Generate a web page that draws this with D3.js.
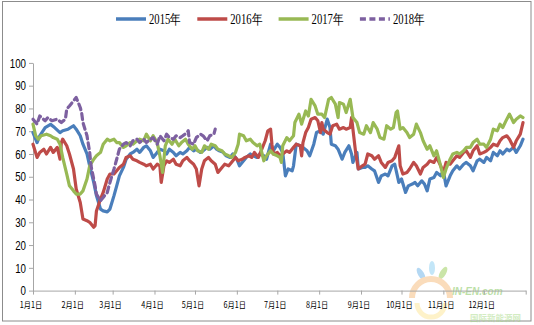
<!DOCTYPE html>
<html>
<head>
<meta charset="utf-8">
<script src="https://cdn.jsdelivr.net/npm/d3@7"></script>
<style>
  body { margin: 0; background: #fff; }
  .axis path, .axis line { stroke: #a6a6a6; }
  .line { fill: none; stroke-width: 3.2; stroke-linejoin: round; stroke-linecap: round; }
</style>
</head>
<body>
<div id="graphic"></div>
<script>
const WIDTH = 534;
const HEIGHT = 325;
const X_LEFT = 33;
const X_RIGHT = 525.7;
const Y_TOP = 62.9;
const Y_BOTTOM = 290.6;

const YEARS = ["2015年", "2016年", "2017年", "2018年"];
const COLORS = ["#4a7ebb", "#be4b48", "#98b954", "#7d60a0"];
const MONTH_LABELS = ["1月1日", "2月1日", "3月1日", "4月1日", "5月1日", "6月1日", "7月1日", "8月1日", "9月1日", "10月1日", "11月1日", "12月1日"];
const Y_TICKS = [0, 10, 20, 30, 40, 50, 60, 70, 80, 90, 100];

// [day of year, value]
const S2015 = [[0,69.4],[3,65],[5,68],[9,71.6],[13,73],[16,71.6],[20,69.4],[22,70.2],[26,70.9],[30,72.4],[32,70.9],[35,68],[37,64.3],[40,60],[42,54.8],[45,47.5],[47,41.7],[50,35.8],[52,35],[55,34.6],[57,35.8],[60,41.7],[62,46],[64,50.4],[67,54.1],[69,57.7],[72,60],[74,60.7],[77,62.1],[79,60.7],[82,62.9],[84,63.6],[87,61.4],[89,58.5],[92,60.7],[94,62.1],[97,61.4],[99,60],[101,62.1],[104,60.7],[106,59.2],[109,60.7],[111,60],[114,61.4],[116,62.9],[119,61.4],[121,62.1],[124,60.7],[126,61.4],[129,62.9],[131,62.1],[134,63.6],[136,62.1],[138,61.4],[141,60.7],[143,59.2],[146,58.5],[148,60],[151,57.7],[153,54.8],[156,57],[158,58.5],[161,60],[163,59.2],[166,58.5],[168,60],[171,59.2],[173,57.7],[176,64.3],[178,61.4],[181,64.3],[183,62.9],[185,60.7],[187,50.4],[189,53.4],[192,52.6],[193,54.8],[195,64.3],[198,63.6],[200,62.9],[203,61.4],[205,59.2],[208,64.3],[210,69.4],[213,70.2],[215,68.7],[218,75.3],[220,71.6],[221,64.3],[224,63.6],[226,62.1],[229,57.7],[231,60.7],[234,63.6],[236,60],[237,56.3],[240,60.7],[241,53.4],[244,54.1],[246,54.1],[248,54.8],[251,53.4],[253,52.6],[256,47.5],[258,50.4],[261,51.2],[263,50.4],[266,54.8],[268,55.5],[271,47.5],[273,49],[276,43.1],[278,46],[281,46.8],[283,47.5],[285,46],[288,48.2],[290,46.8],[292,43.8],[294,49],[297,49.7],[299,51.9],[302,50.4],[304,52.6],[306,46],[309,50.4],[311,52.6],[314,54.8],[316,53.4],[319,55.5],[321,56.3],[324,54.8],[326,52.6],[329,57],[331,57.7],[334,56.3],[336,58.5],[339,57],[341,60.7],[344,59.2],[346,61.4],[348,60],[351,62.1],[353,61.4],[356,62.9],[358,60.7],[361,63.6],[363,66.5]];

const S2016 = [[0,64.3],[3,58.5],[5,60.7],[8,62.1],[10,60],[13,62.9],[15,60.7],[18,62.9],[20,57.7],[21,65],[22,66.5],[25,63.6],[27,60],[30,53.4],[32,44.6],[35,38.7],[37,31.4],[40,30.7],[42,30],[45,27.8],[46,28.5],[47,35],[50,40.2],[52,43.1],[55,49],[57,51.2],[60,51.2],[62,52.6],[64,54.1],[67,55.5],[69,58.5],[72,59.2],[74,57.7],[77,57],[79,56.3],[82,55.5],[84,54.8],[87,55.5],[89,53.4],[92,55.5],[94,54.8],[95,47.5],[97,54.8],[99,57],[101,56.3],[104,57.7],[106,55.5],[109,54.8],[111,57],[114,58.5],[116,57],[119,55.5],[121,53.4],[123,46],[125,53.4],[127,57],[130,58.5],[132,57],[135,55.5],[137,51.9],[140,54.1],[142,55.5],[145,54.8],[147,56.3],[150,58.5],[152,57],[155,57.7],[157,58.5],[160,59.2],[162,58.5],[164,60.7],[167,58.5],[169,61.4],[172,65.8],[174,70.2],[176,70.9],[177,64.3],[178,60],[181,60.7],[183,59.2],[185,60],[188,61.4],[190,60.7],[193,62.9],[195,64.3],[198,63.6],[199,59.2],[200,65],[202,69.4],[204,71.6],[206,75.3],[209,76],[211,74.6],[213,69.4],[214,73.8],[215,70.9],[218,69.4],[220,68.7],[222,72.4],[225,73.1],[227,70.9],[230,71.6],[232,70.9],[235,71.6],[236,76],[237,70.9],[239,60.7],[241,53.4],[244,54.8],[246,55.5],[248,60],[251,59.2],[253,57.7],[256,59.2],[258,56.3],[261,54.1],[263,56.3],[266,57],[268,58.5],[271,63.6],[272,54.8],[274,51.2],[277,51.9],[279,53.4],[282,56.3],[284,54.8],[287,51.2],[289,54.1],[292,55.5],[294,57],[297,56.3],[299,58.5],[302,54.8],[304,51.9],[306,56.3],[309,55.5],[311,57],[314,59.2],[316,58.5],[319,60.7],[321,61.4],[324,58.5],[326,61.4],[329,63.6],[331,60],[334,60.7],[336,61.4],[339,62.9],[341,64.3],[344,63.6],[346,65.8],[348,67.2],[351,68],[353,66.5],[356,62.9],[358,65.8],[361,68.7],[363,73.8]];

const S2017 = [[0,73.1],[2,68],[4,66.5],[6,68],[10,68.7],[13,68],[15,67.2],[18,66.5],[20,64.3],[22,58.5],[25,51.2],[27,46],[30,43.8],[32,42.4],[35,42.4],[37,43.8],[40,49],[42,54.8],[45,57.7],[47,59.2],[50,60.7],[52,64.3],[55,66.5],[57,65.8],[60,66.5],[62,65],[64,65],[67,62.9],[69,63.6],[72,65],[74,64.3],[77,65.8],[79,66.5],[82,65.8],[84,68.7],[87,65.8],[89,68],[92,65],[94,59.2],[96,51.9],[98,63.6],[100,66.5],[103,64.3],[105,66.5],[108,63.6],[110,65],[113,66.5],[115,64.3],[118,62.1],[120,63.6],[122,61.4],[125,60.7],[127,63.6],[130,62.1],[132,64.3],[135,63.6],[137,62.1],[140,61.4],[142,60],[145,59.2],[147,58.5],[150,60.7],[152,64.3],[153,68.7],[156,68],[158,65.8],[161,66.5],[163,65],[166,63.6],[168,64.3],[171,57],[173,59.2],[176,61.4],[178,60],[181,59.2],[183,58.5],[184,56.3],[185,63.6],[188,67.2],[190,65.8],[193,68],[194,73.8],[197,77.5],[199,73.1],[202,78.9],[204,76.7],[206,84],[209,81.1],[211,77.5],[214,77.5],[216,76],[219,84],[221,84.8],[224,81.9],[226,76],[227,82.6],[230,81.9],[232,78.2],[235,84],[237,76],[240,73.8],[242,69.4],[245,68.7],[247,72.4],[250,69.4],[252,73.8],[255,70.9],[257,67.2],[260,66.5],[262,72.4],[265,70.9],[267,71.6],[269,78.2],[270,78.9],[272,70.9],[274,71.6],[277,69.4],[279,67.2],[282,68.7],[284,73.1],[287,69.4],[289,65.8],[292,62.1],[294,63.6],[297,59.2],[299,61.4],[302,54.8],[304,49.7],[306,53.4],[309,57.7],[311,60],[314,60.7],[316,60],[319,61.4],[321,62.9],[324,62.9],[326,65],[329,66.5],[331,64.3],[334,64.3],[336,62.9],[339,66.5],[341,70.9],[344,70.2],[346,73.1],[348,71.6],[351,75.3],[353,77.5],[356,73.8],[358,75.3],[361,76.7],[363,76]];

const S2018 = [[0,75.3],[3,73.1],[5,76.7],[9,74.6],[11,76],[14,74.6],[18,75.3],[21,73.8],[24,75.3],[25,79.7],[27,81.1],[30,83.3],[32,84.8],[34,81.9],[35,80.4],[36,78.2],[37,73.8],[40,68],[42,60.7],[43,54.8],[46,46],[47,42.4],[50,39.5],[52,40.9],[55,43.1],[57,47.5],[60,53.4],[62,57.7],[64,62.1],[67,64.3],[69,65],[72,63.6],[74,65.8],[77,66.5],[79,65],[82,66.5],[84,65],[87,66.5],[89,67.2],[92,64.3],[94,68],[97,65.8],[99,68.7],[101,67.2],[104,66.5],[106,68],[109,67.2],[111,68],[114,69.4],[115,70.2],[116,65],[119,64.3],[121,67.2],[124,68.7],[126,68],[129,65.8],[131,68],[134,68.7],[135,70.9]];

const SERIES = [S2015, S2016, S2017, S2018];

var svg;
var xScale;
var yScale;

var dayToDate = function(d) {
  return new Date(2015, 0, 1 + d);
};

function renderLayout() {
  svg = d3.select("#graphic")
    .append("svg")
    .attr("width", WIDTH)
    .attr("height", HEIGHT);

  svg.append("rect")
    .attr("x", 2.5)
    .attr("y", 1.5)
    .attr("width", 528.5)
    .attr("height", 319.5)
    .attr("fill", "#fff")
    .attr("stroke", "#8c8c8c");

  xScale = d3.scaleTime()
    .domain([new Date(2015, 0, 1), new Date(2016, 0, 1)])
    .range([X_LEFT, X_RIGHT]);

  yScale = d3.scaleLinear()
    .domain([0, 100])
    .range([Y_BOTTOM, Y_TOP]);
}

// faint site logo in the lower right corner
function renderWatermark() {
  var g = svg.append("g").attr("opacity", 0.45);
  g.append("ellipse").attr("cx", 421).attr("cy", 274).attr("rx", 3).attr("ry", 7)
    .attr("transform", "rotate(-30 421 274)").attr("fill", "#5aa9e6");
  g.append("ellipse").attr("cx", 432).attr("cy", 268).attr("rx", 3).attr("ry", 7)
    .attr("fill", "#7cc8f0");
  g.append("ellipse").attr("cx", 443).attr("cy", 273).attr("rx", 3).attr("ry", 7)
    .attr("transform", "rotate(30 443 273)").attr("fill", "#8cc63f");
  g.append("path")
    .attr("d", "M412,298 A19,19 0 0 1 450,298")
    .attr("fill", "none").attr("stroke", "#f6b26b").attr("stroke-width", 6);
  g.append("path")
    .attr("d", "M417,303 A14,14 0 0 0 445,303")
    .attr("fill", "none").attr("stroke", "#fde38a").attr("stroke-width", 5);
  g.append("text")
    .attr("x", 452).attr("y", 295)
    .attr("font-family", "Arial, sans-serif")
    .attr("font-size", 10).attr("font-weight", "bold").attr("font-style", "italic")
    .attr("fill", "#6cbb3c")
    .text("IN-EN.com");
  g.append("text")
    .attr("x", 470).attr("y", 320.5)
    .attr("font-family", "'Noto Sans CJK SC', sans-serif")
    .attr("font-size", 8.5).attr("font-weight", "bold")
    .attr("fill", "#9ed67a")
    .text("国际新能源网");
}

function renderAxis() {
  var yAxisDef = d3.axisLeft(yScale)
    .tickValues(Y_TICKS)
    .tickSize(4)
    .tickSizeOuter(0)
    .tickFormat(d3.format("d"));

  var yAxis = svg.append("g")
    .attr("class", "axis")
    .attr("transform", `translate(${X_LEFT}, 0)`)
    .call(yAxisDef);

  yAxis.selectAll("text")
    .attr("x", -9.3)
    .attr("transform", "scale(0.75, 1)")
    .attr("fill", "#000")
    .style("font-family", "'Liberation Sans', Arial, sans-serif")
    .style("font-size", "13px");

  var monthTicks = d3.timeMonth.range(new Date(2015, 0, 1), new Date(2016, 0, 2));

  var xAxisDef = d3.axisBottom(xScale)
    .tickValues(monthTicks)
    .tickSize(4)
    .tickSizeOuter(0)
    .tickFormat((d, i) => MONTH_LABELS[i] || "");

  var xAxis = svg.append("g")
    .attr("class", "axis")
    .attr("transform", `translate(0, ${Y_BOTTOM})`)
    .call(xAxisDef);

  xAxis.selectAll("text")
    .attr("y", 11.5)
    .attr("x", -3)
    .attr("transform", "scale(0.85, 1)")
    .attr("fill", "#000")
    .style("font-family", "'Noto Sans CJK SC', sans-serif")
    .style("font-size", "8.5px");
}

function renderLines() {
  var line = d3.line()
    .x(d => xScale(dayToDate(d[0])))
    .y(d => yScale(d[1]));

  svg.selectAll("path.line")
    .data(SERIES)
    .enter()
    .append("path")
    .attr("class", "line")
    .attr("stroke", (d, i) => COLORS[i])
    .attr("stroke-dasharray", (d, i) => i == 3 ? "6,4" : null)
    .attr("stroke-linecap", (d, i) => i == 3 ? "butt" : "round")
    .attr("d", line);
}

function renderLegend() {
  var item = svg.selectAll("g.legend-item")
    .data(YEARS)
    .enter()
    .append("g")
    .attr("class", "legend-item")
    .attr("transform", (d, i) => `translate(${116 + i * 81.3}, 19)`);

  item.append("line")
    .attr("x1", 0)
    .attr("x2", 30)
    .attr("stroke", (d, i) => COLORS[i])
    .attr("stroke-width", 3.5)
    .attr("stroke-dasharray", (d, i) => i == 3 ? "6,3.5" : null);

  item.append("text")
    .attr("x", 33 / 0.76)
    .attr("y", 5)
    .attr("transform", "scale(0.76, 1)")
    .style("font-family", "'Liberation Serif', 'Times New Roman', serif")
    .style("font-size", "14px")
    .text(d => d);
}

renderLayout();
renderWatermark();
renderAxis();
renderLines();
renderLegend();
</script>
</body>
</html>
